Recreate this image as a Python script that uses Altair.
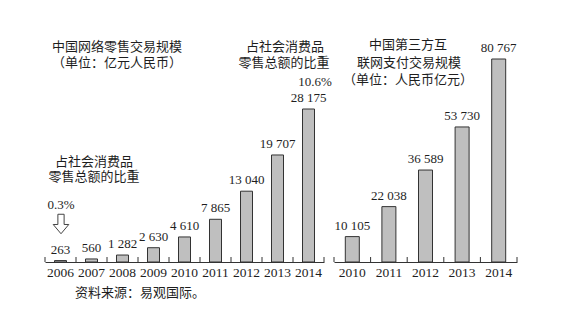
import altair as alt
import pandas as pd

years_left = ["2006", "2007", "2008", "2009", "2010", "2011", "2012", "2013", "2014"]
retail_values = [263, 560, 1282, 2630, 4610, 7865, 13040, 19707, 28175]
years_right = ["2010", "2011", "2012", "2013", "2014"]
payment_values = [10105, 22038, 36589, 53730, 80767]

NUM_FONT = "Liberation Serif"
CJK_FONT = "Noto Sans CJK SC"
TXT = "#1e1e1e"
H = 262
WL, WR = 279, 183


def fmt(v):
    return f"{v:,}".replace(",", " ")


left_df = pd.DataFrame({"year": years_left, "value": retail_values,
                        "label": [fmt(v) for v in retail_values]})
right_df = pd.DataFrame({"year": years_right, "value": payment_values,
                         "label": [fmt(v) for v in payment_values]})


def one():
    return alt.Chart(alt.Data(values=[{"k": 1}]))


def panel(df, width, ymax, bar_size, notes):
    x = alt.X("year:N", sort=None,
              scale=alt.Scale(paddingInner=0, paddingOuter=0),
              axis=alt.Axis(title=None, ticks=False, domainColor="#333", domainWidth=1,
                            labelFont=NUM_FONT, labelFontSize=13.5, labelColor=TXT,
                            labelPadding=3, labelAngle=0))
    y = alt.Y("value:Q", scale=alt.Scale(domain=[0, ymax], nice=False), axis=None)
    base = alt.Chart(df)
    bars = base.mark_bar(size=bar_size, fill="#bfbfbf", stroke="#333", strokeWidth=1).encode(x=x, y=y)
    labels = base.mark_text(font=NUM_FONT, fontSize=13, color=TXT, baseline="alphabetic", dy=-7).encode(
        x=x, y=y, text="label:N")
    ticks = base.mark_rule(color="#333", strokeWidth=1).encode(
        x=alt.X("year:N", sort=None, bandPosition=0), y=alt.value(H), y2=alt.value(H - 5))
    end_tick = one().mark_rule(color="#333", strokeWidth=1).encode(
        x=alt.value(width), y=alt.value(H), y2=alt.value(H - 5))
    layers = [bars, labels, ticks, end_tick]
    for txt, px, py, font, size in notes:
        layers.append(one().mark_text(text=txt, font=font, fontSize=size, color=TXT,
                                      align="center", baseline="middle").encode(
            x=alt.value(px), y=alt.value(py)))
    return alt.layer(*layers).properties(width=width, height=H)


left_notes = [
    ("中国网络零售交易规模", 72, 47, CJK_FONT, 13),
    ("（单位：亿元人民币）", 72, 63, CJK_FONT, 13),
    ("占社会消费品", 240, 47, CJK_FONT, 13),
    ("零售总额的比重", 239, 63, CJK_FONT, 13),
    ("10.6%", 270, 82, NUM_FONT, 13),
    ("占社会消费品", 49, 162, CJK_FONT, 13),
    ("零售总额的比重", 49, 177, CJK_FONT, 13),
    ("0.3%", 16, 205, NUM_FONT, 13),
    ("资料来源：易观国际。", 95, 293, CJK_FONT, 13),
]
right_notes = [
    ("中国第三方互", 74, 45, CJK_FONT, 13),
    ("联网支付交易规模", 75, 63, CJK_FONT, 13),
    ("（单位：人民币亿元）", 74, 80, CJK_FONT, 13),
]

left = panel(left_df, WL, 28175 * H / 153, 12, left_notes)
arrow = one().mark_point(
    shape="M-0.32,-1 L0.32,-1 L0.32,0.05 L0.8,0.05 L0,1 L-0.8,0.05 L-0.32,0.05 Z",
    size=380, filled=True, fill="white", stroke="#444", strokeWidth=1, opacity=1).encode(
    x=alt.value(16), y=alt.value(224))
left = alt.layer(left, arrow)
right = panel(right_df, WR, 80767 * H / 203, 14, right_notes)

chart = alt.hconcat(left, right, spacing=10, bounds="flush").properties(
    padding={"left": 44, "top": 0, "right": 5, "bottom": 5},
    background="white",
).configure_view(stroke=None)

chart.save("out.html", embed_options={"renderer": "svg", "actions": False})
